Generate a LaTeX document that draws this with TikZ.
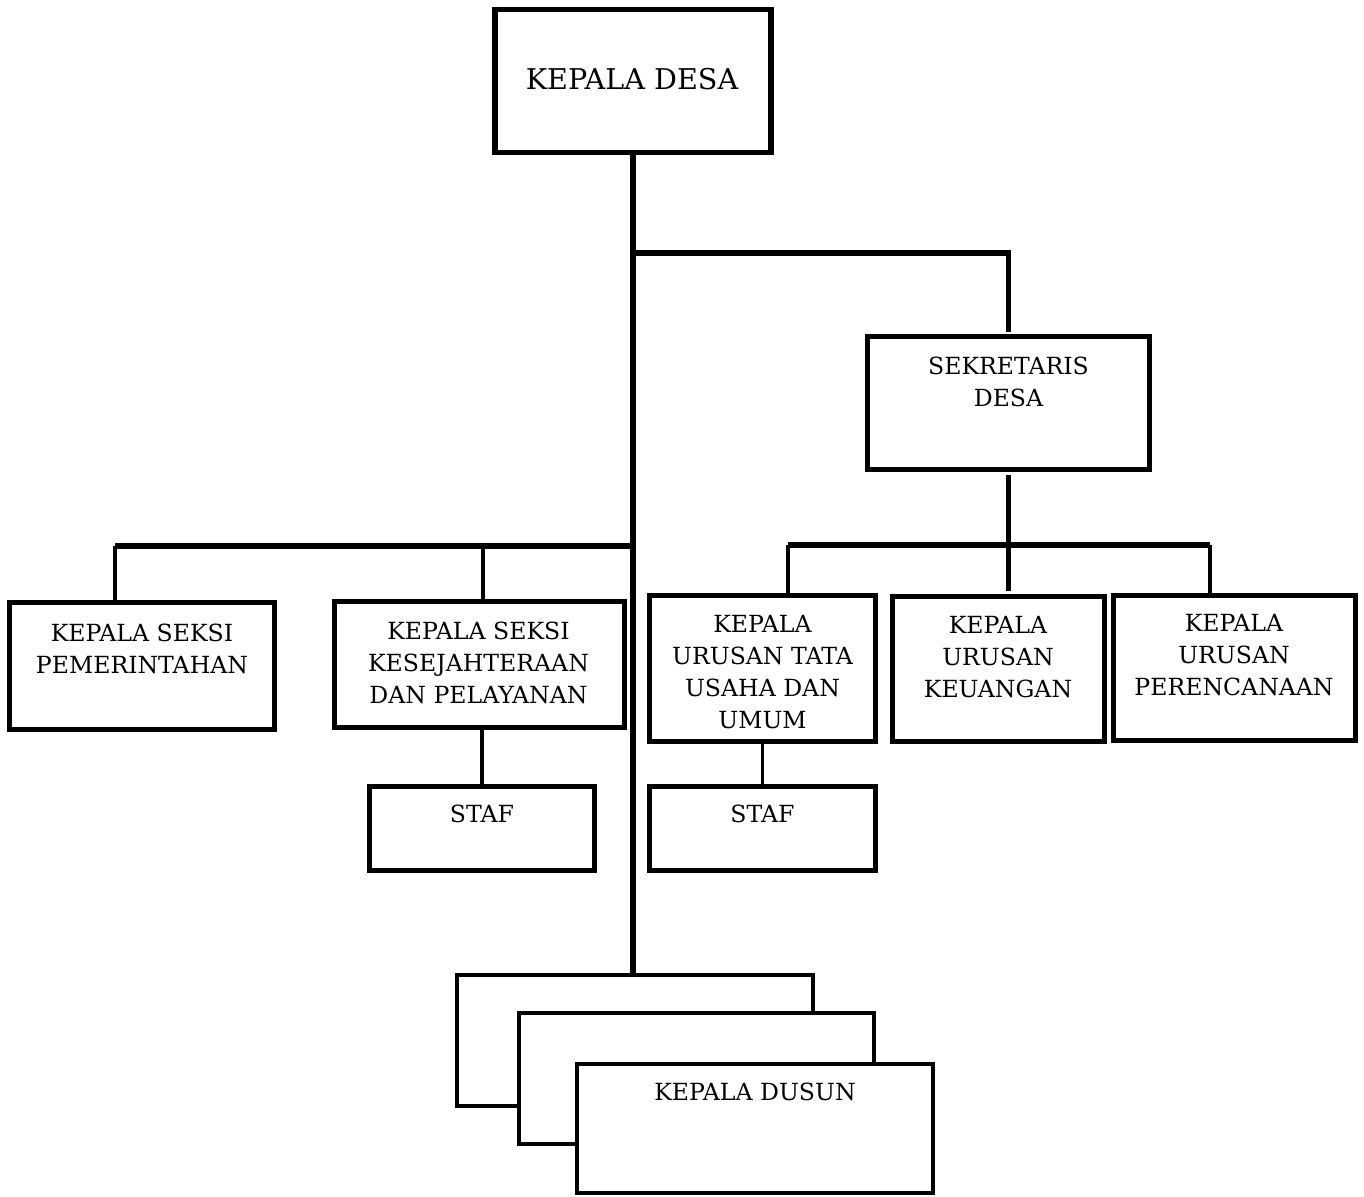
\documentclass[tikz,border=0pt]{standalone}
\usepackage{fontspec}
\setmainfont{DejaVu Serif}
\begin{document}
\begin{tikzpicture}[x=0.5pt,y=-0.5pt,
  box/.style={draw, line width=2.75pt, fill=white, inner sep=0pt, outer sep=0pt, rectangle},
  dbox/.style={draw, line width=2.25pt, fill=white, inner sep=0pt, outer sep=0pt, rectangle},
  lbl/.style={font=\fontsize{11.8}{16}\selectfont, align=center, anchor=base, inner sep=0pt},
  barline/.style={line width=2.75pt},
  dropline/.style={line width=1.75pt},
  trunkline/.style={line width=3pt}]
\useasboundingbox[fill=white] (0,0) rectangle (1364,1197);

% boxes
\node[box, minimum width=138pt, minimum height=71.5pt] (kd) at (633,81) {};
\node[box, minimum width=141pt, minimum height=66.5pt] (sd) at (1008.5,403) {};
\node[box, minimum width=132.5pt, minimum height=63.5pt] (kp) at (142,666) {};
\node[box, minimum width=145pt, minimum height=63pt] (kk) at (479.5,664.5) {};
\node[box, minimum width=112.5pt, minimum height=42pt] (st1) at (482,828.5) {};
\node[box, minimum width=113pt, minimum height=73pt] (ktu) at (762.5,668.5) {};
\node[box, minimum width=113pt, minimum height=42pt] (st2) at (762.5,828.5) {};
\node[box, minimum width=106pt, minimum height=72.5pt] (ku) at (998.5,669) {};
\node[box, minimum width=121pt, minimum height=72.5pt] (kr) at (1234.5,668) {};
\node[dbox, minimum width=178pt, minimum height=65.5pt] (dback) at (635,1040.5) {};
\node[dbox, minimum width=177.5pt, minimum height=65.5pt] (dmid) at (696.5,1078.5) {};
\node[dbox, minimum width=178pt, minimum height=64.5pt] (dfront) at (755,1128.5) {};

% labels (anchor base = baseline of the last line)
\node[lbl, font=\fontsize{14.3}{18}\selectfont] (tkd) at (632,90) {KEPALA DESA};
\node[lbl] (tsd) at (1008.5,407) {SEKRETARIS\\DESA};
\node[lbl] (tkp) at (142,673) {KEPALA SEKSI\\PEMERINTAHAN};
\node[lbl] (tkk) at (478.5,703) {KEPALA SEKSI\\KESEJAHTERAAN\\DAN PELAYANAN};
\node[lbl] (tst1) at (482,822) {STAF};
\node[lbl] (tktu) at (762.5,728) {KEPALA\\URUSAN TATA\\USAHA DAN\\UMUM};
\node[lbl] (tst2) at (762.5,822) {STAF};
\node[lbl] (tku) at (998,697) {KEPALA\\URUSAN\\KEUANGAN};
\node[lbl] (tkr) at (1234,695.5) {KEPALA\\URUSAN\\PERENCANAAN};
\node[lbl] (tdu) at (755,1100) {KEPALA DUSUN};

% coordinates
\coordinate (j1) at (633,253);
\coordinate (j2) at (633,546);
\coordinate (lbL) at (115,546);
\coordinate (lbM) at (483,546);
\coordinate (rbL) at (788,545);
\coordinate (rbR) at (1210,545);

% connectors
\draw[trunkline] (kd.south) -- (kd.south |- dback.north);
\draw[barline, line join=miter] (j1) -- (j1 -| sd.north) -- ([yshift=2pt]sd.north);
\draw[barline] (j2) -- (lbL);
\draw[dropline] (lbL) -- (lbL |- kp.north);
\draw[dropline] (lbM) -- (lbM |- kk.north);
\draw[barline, shorten <=3pt, shorten >=3pt] (sd.south) -- (sd.south |- ku.north);
\draw[barline] (rbL) -- (rbR);
\draw[dropline] (rbL) -- (rbL |- ktu.north);
\draw[dropline] (rbR) -- (rbR |- kr.north);
\draw[dropline] (st1.north |- kk.south) -- (st1.north);
\draw[dropline] (ktu.south) -- (st2.north);
\end{tikzpicture}
\end{document}
